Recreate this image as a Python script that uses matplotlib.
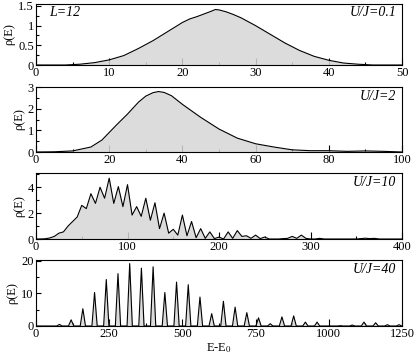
import numpy as np
import matplotlib
matplotlib.use("Agg")
import matplotlib.pyplot as plt
from matplotlib.ticker import MultipleLocator, FormatStrFormatter

plt.rcParams['font.family'] = ['Liberation Serif', 'DejaVu Serif']
plt.rcParams['mathtext.fontset'] = 'stix'

# panel 1, U/J=0.1
E1 = [0, 4, 6, 8, 10, 12, 14, 16, 18, 20, 21, 22, 23, 24, 24.5, 25, 26, 27, 28,
      30, 32, 34, 36, 38, 40, 42, 44, 46, 50]
rho1 = [0, 0, 0.02, 0.06, 0.13, 0.24, 0.42, 0.62, 0.85, 1.08, 1.17, 1.23, 1.3, 1.37,
        1.41, 1.4, 1.35, 1.28, 1.2, 1.0, 0.78, 0.56, 0.37, 0.22, 0.12, 0.05, 0.02, 0, 0]

# panel 2, U/J=2
E2 = [0, 5, 10, 15, 18, 20, 22, 25, 28, 30, 32, 33.5, 35, 37, 40, 45, 50, 55, 60, 65,
      70, 75, 80, 85, 90, 95, 100]
rho2 = [0, 0.01, 0.05, 0.23, 0.55, 0.9, 1.25, 1.75, 2.3, 2.58, 2.74, 2.79, 2.75, 2.6,
        2.2, 1.6, 1.06, 0.64, 0.38, 0.23, 0.1, 0.06, 0.06, 0.03, 0.05, 0.03, 0]

# panel 3, U/J=10 (sampled every 5)
E3 = list(range(0, 405, 5))
rho3 = [0, 0, 0.02, 0.08, 0.2, 0.45, 0.55, 1.0, 1.35, 1.7,
        2.6, 2.35, 3.5, 2.75, 4.0, 3.15, 4.7, 2.75, 4.05, 2.5,
        4.2, 1.85, 2.5, 1.75, 3.15, 1.45, 2.8, 0.8, 2.0, 0.45,
        0.75, 0.3, 1.85, 0.25, 1.35, 0.1, 0.8, 0.05, 0.55, 0.03,
        0.15, 0, 0.55, 0.05, 0.65, 0.2, 0.25, 0.05, 0.3, 0.03,
        0.15, 0, 0, 0, 0.03, 0.05, 0.2, 0.05, 0.3, 0.05,
        0, 0, 0.05, 0, 0, 0, 0, 0, 0, 0,
        0, 0.03, 0.06, 0.03, 0.05, 0, 0, 0, 0, 0,
        0]

# panel 4, U/J=40: peak positions and heights
peak_E = [80, 120, 160, 200, 240, 280, 320, 360, 400, 440, 480, 520, 560, 600, 640,
          680, 720, 760, 800, 840, 880, 920, 960, 1040, 1080, 1120, 1160, 1200, 1240]
peak_h = [0.5, 1.9, 5.3, 10.3, 14.3, 16.1, 19.2, 17.8, 18.2, 10.3, 13.5, 12.7, 8.9,
          3.8, 7.6, 5.8, 4.1, 2.5, 0.7, 2.8, 3.1, 1.2, 1.2, 0.1, 0.3, 1.2, 1.0, 0.4, 0.4]

hw = 9
E4 = [0]
rho4 = [0]
for c, h in zip(peak_E, peak_h):
    E4 += [c - hw, c, c + hw]
    rho4 += [0, h, 0]
E4.append(1250)
rho4.append(0)

W, H = 415, 357
fig = plt.figure(figsize=(W / 100, H / 100), dpi=100)

# (top px, bottom px) of each panel
boxes = [(4, 65), (87, 152), (173, 239), (260, 326)]
left, right = 36, 402

panels = [
    (E1, rho1, (0, 50), 10, 5, (0, 1.55), 0.5, 0.25, 'U/J=0.1'),
    (E2, rho2, (0, 100), 20, 10, (0, 3), 1, 0.5, 'U/J=2'),
    (E3, rho3, (0, 400), 100, 50, (0, 5.1), 2, 1, 'U/J=10'),
    (E4, rho4, (0, 1250), 250, 125, (0, 20.3), 10, 5, 'U/J=40'),
]

axs = []
for (top, bot), (x, y, xl, xmaj, xmin, yl, ymaj, ymin, lab) in zip(boxes, panels):
    ax = fig.add_axes([left / W, 1 - bot / H, (right - left) / W, (bot - top) / H])
    ax.set_axisbelow(True)
    ax.fill_between(x, y, 0, color='#d6d6d6', alpha=0.85, lw=0, zorder=1)
    ax.plot(x, y, color='black', lw=0.8, zorder=2)
    ax.set_xlim(xl)
    ax.set_ylim(yl)
    ax.xaxis.set_major_locator(MultipleLocator(xmaj))
    ax.xaxis.set_minor_locator(MultipleLocator(xmin))
    ax.yaxis.set_major_locator(MultipleLocator(ymaj))
    ax.yaxis.set_minor_locator(MultipleLocator(ymin))
    ax.yaxis.set_major_formatter(FormatStrFormatter('%g'))
    ax.tick_params(which='both', direction='in', top=False, right=False,
                   labelsize=9, pad=1.5, width=0.8)
    ax.tick_params(axis='x', which='major', length=5)
    ax.tick_params(axis='x', which='minor', length=2.5)
    ax.tick_params(axis='y', which='major', length=3.5)
    ax.tick_params(axis='y', which='minor', length=2)
    for s in ax.spines.values():
        s.set_linewidth(0.8)
    ax.set_ylabel('\u03c1(E)', fontsize=9, labelpad=2)
    ax.text(0.985, 0.86, lab, transform=ax.transAxes, ha='right', va='center',
            fontsize=10, style='italic')
    axs.append(ax)

axs[0].text(0.035, 0.86, 'L=12', transform=axs[0].transAxes, ha='left', va='center',
            fontsize=10, style='italic')
axs[3].set_xlabel(r'E-E$_0$', fontsize=9, labelpad=1)

fig.savefig('out.png', dpi=100)
